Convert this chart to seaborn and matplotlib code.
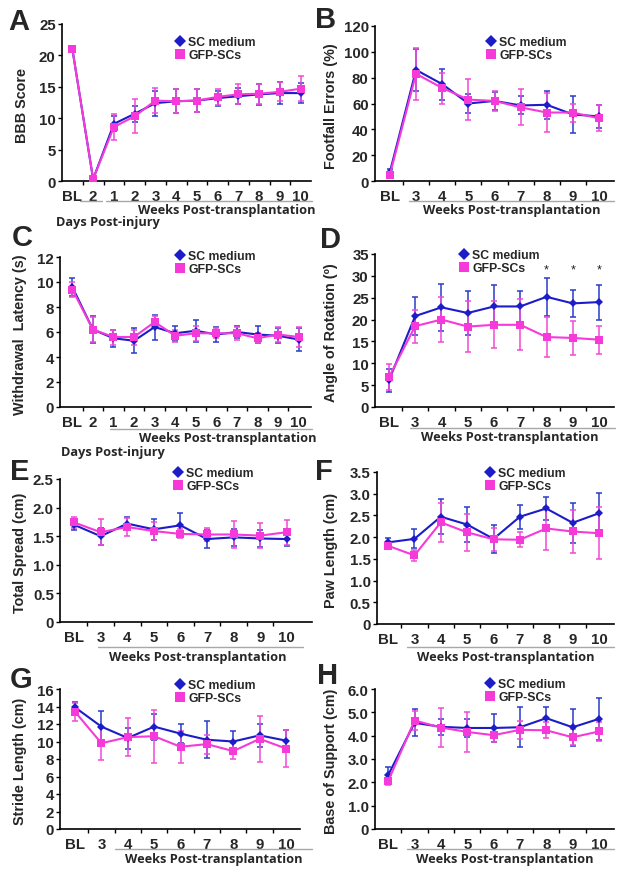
import numpy as np
import pandas as pd
import matplotlib
matplotlib.use("Agg")
import matplotlib.pyplot as plt
from matplotlib.lines import Line2D
from matplotlib.ticker import FuncFormatter, MultipleLocator
import seaborn as sns

# ---- data (mean, SD) ----
labels_days = ["BL", "2", "1", "2", "3", "4", "5", "6", "7", "8", "9", "10"]
labels_weeks = ["BL", "3", "4", "5", "6", "7", "8", "9", "10"]
groups = ["SC medium", "GFP-SCs"]

bbb_sc = [21.0, 0.3, 9.1, 10.7, 12.4, 12.7, 12.8, 13.2, 13.5, 13.8, 14.0, 14.0]
bbb_sc_sd = [0.0, 0.0, 1.2, 1.3, 2.0, 1.9, 1.8, 1.2, 1.3, 1.7, 1.8, 1.6]
bbb_gfp = [21.0, 0.3, 8.6, 10.3, 12.8, 12.7, 12.8, 13.4, 13.8, 13.9, 14.2, 14.7]
bbb_gfp_sd = [0.0, 0.0, 2.0, 2.7, 2.0, 1.9, 1.8, 1.3, 1.6, 1.6, 1.5, 2.0]

ff_sc = [7.0, 86.0, 75.0, 60.0, 62.0, 58.5, 59.0, 51.5, 50.0]
ff_sc_sd = [2.0, 16.0, 12.0, 7.0, 7.0, 7.0, 11.0, 14.0, 9.0]
ff_gfp = [5.0, 83.0, 72.0, 63.0, 62.0, 57.0, 53.0, 53.0, 48.5]
ff_gfp_sd = [2.0, 20.0, 12.0, 16.0, 8.0, 14.0, 15.0, 7.0, 10.0]

wl_sc = [9.6, 6.2, 5.5, 5.3, 6.4, 5.9, 6.1, 5.8, 6.0, 5.8, 5.7, 5.4]
wl_sc_sd = [0.7, 1.1, 0.7, 1.0, 1.0, 0.6, 0.9, 0.6, 0.5, 0.7, 0.6, 0.9]
wl_gfp = [9.4, 6.2, 5.6, 5.6, 6.8, 5.7, 5.9, 5.9, 5.9, 5.5, 5.8, 5.6]
wl_gfp_sd = [0.6, 1.0, 0.6, 0.6, 0.5, 0.5, 0.6, 0.4, 0.5, 0.4, 0.6, 0.8]

rot_sc = [6.1, 20.8, 22.8, 21.5, 23.0, 23.0, 25.2, 23.7, 24.0]
rot_sc_sd = [2.7, 4.4, 5.4, 5.1, 4.8, 3.5, 4.3, 3.0, 4.0]
rot_gfp = [6.8, 18.5, 20.0, 18.4, 18.8, 18.8, 16.0, 15.8, 15.4]
rot_gfp_sd = [3.0, 3.8, 5.2, 5.9, 5.4, 5.8, 4.6, 3.8, 3.2]
rot_signif = ["", "", "", "", "", "", "*", "*", "*"]

ts_sc = [1.70, 1.50, 1.72, 1.62, 1.69, 1.45, 1.48, 1.46, 1.45]
ts_sc_sd = [0.10, 0.15, 0.12, 0.18, 0.21, 0.16, 0.15, 0.15, 0.12]
ts_gfp = [1.74, 1.57, 1.66, 1.59, 1.54, 1.53, 1.53, 1.51, 1.57]
ts_gfp_sd = [0.10, 0.23, 0.16, 0.16, 0.08, 0.12, 0.23, 0.22, 0.22]

pl_sc = [1.88, 1.96, 2.47, 2.29, 1.96, 2.47, 2.66, 2.33, 2.55]
pl_sc_sd = [0.10, 0.22, 0.40, 0.40, 0.33, 0.28, 0.26, 0.46, 0.47]
pl_gfp = [1.80, 1.58, 2.34, 2.11, 1.95, 1.94, 2.20, 2.13, 2.09]
pl_gfp_sd = [0.07, 0.12, 0.45, 0.42, 0.27, 0.17, 0.50, 0.50, 0.60]

sl_sc = [13.9, 11.7, 10.4, 11.7, 10.9, 10.2, 10.0, 10.7, 10.1]
sl_sc_sd = [0.6, 1.8, 1.2, 1.5, 1.1, 2.1, 1.2, 1.3, 1.2]
sl_gfp = [13.4, 9.8, 10.5, 10.6, 9.4, 9.7, 8.9, 10.3, 9.2]
sl_gfp_sd = [1.0, 1.9, 2.2, 3.0, 1.8, 1.1, 0.9, 2.6, 2.1]

bs_sc = [2.31, 4.55, 4.38, 4.33, 4.33, 4.36, 4.75, 4.36, 4.72]
bs_sc_sd = [0.35, 0.58, 0.35, 0.40, 0.60, 0.85, 0.50, 0.80, 0.90]
bs_gfp = [2.05, 4.65, 4.35, 4.16, 4.02, 4.25, 4.23, 3.93, 4.18]
bs_gfp_sd = [0.15, 0.40, 0.85, 0.85, 0.30, 0.40, 0.35, 0.35, 0.40]

# ---- style ----
sns.set_theme(style="ticks")
plt.rcParams["font.family"] = ["Liberation Sans", "DejaVu Sans"]
plt.rcParams["font.weight"] = "bold"
plt.rcParams["axes.labelweight"] = "bold"

line_col = {"SC medium": "#1c1cc8", "GFP-SCs": "#f53ad9"}
err_col = {"SC medium": "#2a3ccc", "GFP-SCs": "#f04ad6"}
marker = {"SC medium": "D", "GFP-SCs": "s"}
msize = {"SC medium": 4.3, "GFP-SCs": 5.8}

W, H = 624, 879
fig = plt.figure(figsize=(W / 100, H / 100), dpi=100)


def fx(x):
    return x / W


def fy(y):
    return 1 - y / H


panels = [
    dict(letter="A", labels=labels_days, sc=bbb_sc, sc_sd=bbb_sc_sd, gfp=bbb_gfp, gfp_sd=bbb_gfp_sd,
         ylabel="BBB Score", ymax=25, step=5, dec=False,
         box=(62, 25, 311, 182), xlim=(-0.5, 11.5), ylab_x=29, let=(8, 30), leg=(180, 44),
         lines=[(80, 102, 202), (106, 312, 202)], weeks=(227, 211), days=(108, 223)),
    dict(letter="B", labels=labels_weeks, sc=ff_sc, sc_sd=ff_sc_sd, gfp=ff_gfp, gfp_sd=ff_gfp_sd,
         ylabel="Footfall Errors (%)", ymax=120, step=20, dec=False,
         box=(375, 27, 614, 182), xlim=(-0.57, 8.57), ylab_x=338, let=(315, 28), leg=(491, 44),
         lines=[(409, 614, 202)], weeks=(512, 211), days=None),
    dict(letter="C", labels=labels_days, sc=wl_sc, sc_sd=wl_sc_sd, gfp=wl_gfp, gfp_sd=wl_gfp_sd,
         ylabel="Withdrawal  Latency (s)", ymax=12, step=2, dec=False,
         box=(60, 258, 311, 408), xlim=(-0.6, 11.6), ylab_x=27, let=(12, 246), leg=(180, 258),
         lines=[(110, 312, 430)], weeks=(228, 439), days=(113, 453)),
    dict(letter="D", labels=labels_weeks, sc=rot_sc, sc_sd=rot_sc_sd, gfp=rot_gfp, gfp_sd=rot_gfp_sd,
         ylabel="Angle of Rotation (º)", ymax=35, step=5, dec=False,
         box=(375, 255, 614, 408), xlim=(-0.53, 8.57), ylab_x=338, let=(320, 248), leg=(464, 257),
         lines=[(410, 615, 429)], weeks=(510, 438), days=None, stars=rot_signif),
    dict(letter="E", labels=labels_weeks, sc=ts_sc, sc_sd=ts_sc_sd, gfp=ts_gfp, gfp_sd=ts_gfp_sd,
         ylabel="Total Spread (cm)", ymax=2.5, step=0.5, dec=True,
         box=(60, 480, 312, 623), xlim=(-0.53, 8.95), ylab_x=27, let=(10, 480), leg=(178, 475),
         lines=[(98, 303, 648)], weeks=(198, 658), days=None),
    dict(letter="F", labels=labels_weeks, sc=pl_sc, sc_sd=pl_sc_sd, gfp=pl_gfp, gfp_sd=pl_gfp_sd,
         ylabel="Paw Length (cm)", ymax=3.5, step=0.5, dec=True,
         box=(377, 473, 614, 625), xlim=(-0.42, 8.57), ylab_x=338, let=(315, 480), leg=(490, 475),
         lines=[(407, 614, 648)], weeks=(506, 658), days=None),
    dict(letter="G", labels=labels_weeks, sc=sl_sc, sc_sd=sl_sc_sd, gfp=sl_gfp, gfp_sd=sl_gfp_sd,
         ylabel="Stride Length (cm)", ymax=16, step=2, dec=False,
         box=(60, 690, 300, 830), xlim=(-0.57, 8.53), ylab_x=27, let=(10, 688), leg=(180, 687),
         lines=[(115, 312, 850)], weeks=(214, 860), days=None),
    dict(letter="H", labels=labels_weeks, sc=bs_sc, sc_sd=bs_sc_sd, gfp=bs_gfp, gfp_sd=bs_gfp_sd,
         ylabel="Base of Support (cm)", ymax=6, step=1, dec=True,
         box=(375, 690, 614, 830), xlim=(-0.5, 8.57), ylab_x=338, let=(317, 684), leg=(490, 686),
         lines=[(407, 614, 850)], weeks=(505, 860), days=None),
]

for p in panels:
    l, t, r, b = p["box"]
    ax = fig.add_axes([fx(l), fy(b), (r - l) / W, (b - t) / H])
    n = len(p["labels"])
    df = pd.DataFrame({
        "pos": list(range(n)) * 2,
        "value": p["sc"] + p["gfp"],
        "sd": p["sc_sd"] + p["gfp_sd"],
        "group": ["SC medium"] * n + ["GFP-SCs"] * n,
    })
    for g in groups:
        sub = df[df["group"] == g]
        ax.errorbar(sub["pos"], sub["value"], yerr=sub["sd"], fmt="none",
                    ecolor=err_col[g], elinewidth=1.1, capsize=2.2, capthick=1.1, zorder=2)
        sns.lineplot(data=sub, x="pos", y="value", color=line_col[g], marker=marker[g],
                     markersize=msize[g], markeredgewidth=0, linewidth=1.5, ax=ax,
                     legend=False, zorder=3)

    if p.get("stars"):
        for i, s in enumerate(p["stars"]):
            if s:
                ax.text(i, p["ymax"] * 0.9, s, ha="center", va="center", fontsize=9,
                        fontweight="normal", color="#222222")

    ax.set_xlim(*p["xlim"])
    ax.set_ylim(0, p["ymax"])
    ax.yaxis.set_major_locator(MultipleLocator(p["step"]))
    if p["dec"]:
        ax.yaxis.set_major_formatter(FuncFormatter(lambda v, _: "0" if v == 0 else f"{v:.1f}"))
    else:
        ax.yaxis.set_major_formatter(FuncFormatter(lambda v, _: f"{v:g}"))
    ax.set_xticks(range(n))
    ax.set_xticklabels(p["labels"])
    ax.set_xticks(np.arange(n - 1) + 0.5, minor=True)
    ax.tick_params(axis="x", which="major", length=0, pad=5.5, labelsize=10.8)
    ax.tick_params(axis="x", which="minor", length=3, width=1.0, color="black")
    ax.tick_params(axis="y", which="major", length=3, width=1.0, pad=1.5, labelsize=10.8, color="black")
    for lab in ax.get_xticklabels() + ax.get_yticklabels():
        lab.set_fontweight("bold")
    sns.despine(ax=ax)
    for sp in ["left", "bottom"]:
        ax.spines[sp].set_linewidth(1.2)
        ax.spines[sp].set_color("black")
    ax.set_xlabel("")
    ax.set_ylabel(p["ylabel"], fontsize=10.4, fontweight="bold")
    ax.yaxis.set_label_coords((p["ylab_x"] - l) / (r - l), 0.49)

    handles = [Line2D([], [], marker=marker[g], color=line_col[g], linestyle="none",
                      markersize=msize[g] + 1.5, markeredgewidth=0) for g in groups]
    mx, my = p["leg"]
    ax.legend(handles, groups, loc="upper left", bbox_to_anchor=(fx(mx - 4), fy(my - 7)),
              bbox_transform=fig.transFigure, frameon=False, handlelength=0.7,
              handletextpad=0.3, labelspacing=0.12, borderpad=0, borderaxespad=0,
              prop={"size": 8.8, "weight": "bold"})

    fig.text(fx(p["let"][0]), fy(p["let"][1]), p["letter"], fontsize=21, fontweight="bold",
             ha="left", va="baseline")
    for x0, x1, y in p["lines"]:
        fig.add_artist(Line2D([fx(x0), fx(x1)], [fy(y), fy(y)], color="#a8a8a8", lw=1.0))
    wx, wy = p["weeks"]
    fig.text(fx(wx), fy(wy), "Weeks Post-transplantation", ha="center", va="center",
             fontsize=9.2, fontweight="bold", family=["Open Sans", "DejaVu Sans"])
    if p["days"]:
        dx, dy = p["days"]
        fig.text(fx(dx), fy(dy), "Days Post-injury", ha="center", va="center",
                 fontsize=9.2, fontweight="bold", family=["Open Sans", "DejaVu Sans"])

fig.savefig("out.png", dpi=100)
